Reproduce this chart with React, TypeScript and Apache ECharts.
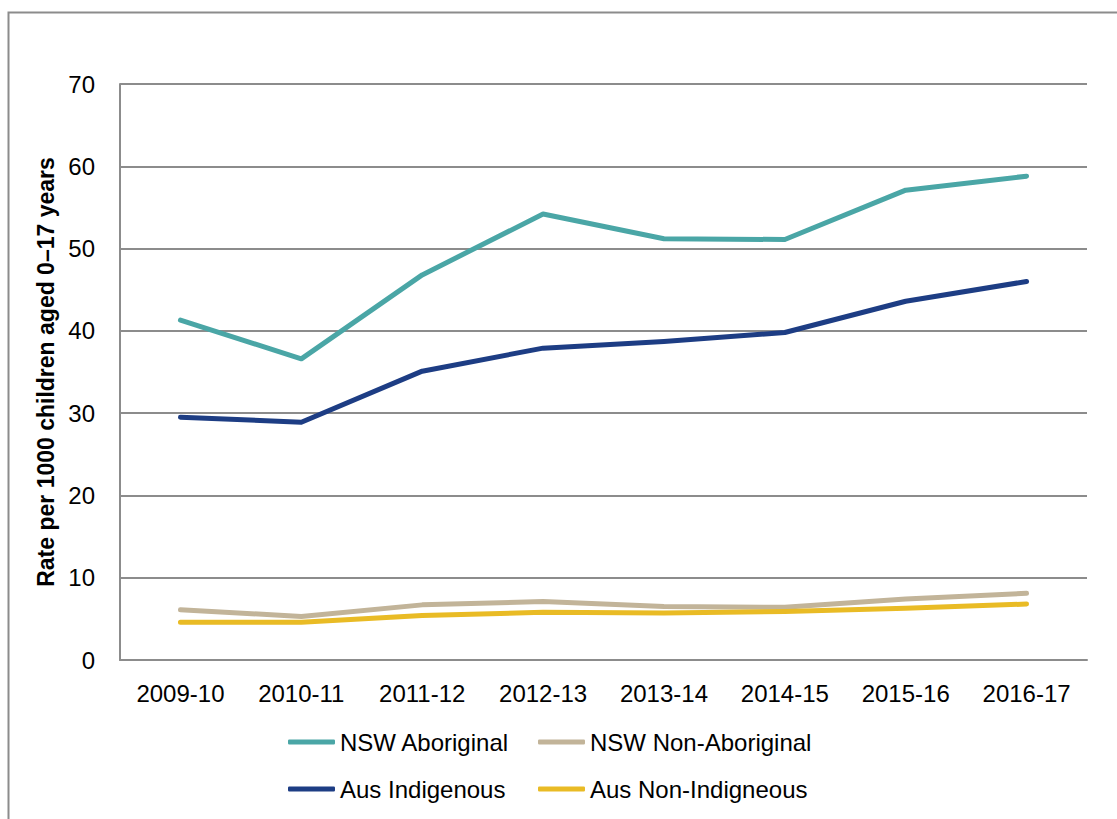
import React, { useEffect, useRef } from "react";
import * as echarts from "echarts";

const categories = ["2009-10", "2010-11", "2011-12", "2012-13", "2013-14", "2014-15", "2015-16", "2016-17"];
const nswAboriginal = [41.3, 36.6, 46.8, 54.2, 51.2, 51.1, 57.1, 58.8];
const nswNonAboriginal = [6.1, 5.3, 6.7, 7.1, 6.5, 6.4, 7.4, 8.1];
const ausIndigenous = [29.5, 28.9, 35.1, 37.9, 38.7, 39.8, 43.6, 46.0];
const ausNonIndigenous = [4.6, 4.6, 5.4, 5.8, 5.7, 5.9, 6.3, 6.8];

const seriesNames = ["NSW Aboriginal", "NSW Non-Aboriginal", "Aus Indigenous", "Aus Non-Indigneous"];
const seriesColors = ["#4aa6a6", "#c2b499", "#1d3d84", "#e9bb25"];
const seriesData = [nswAboriginal, nswNonAboriginal, ausIndigenous, ausNonIndigenous];

const FONT = "'Liberation Sans', Arial, sans-serif";

export default function App() {
  const ref = useRef<HTMLDivElement>(null);
  useEffect(() => {
    if (!ref.current) return;
    const chart = echarts.init(ref.current, undefined, { renderer: "svg" });
    const legendPos = [
      { left: 288, top: 730 },
      { left: 538, top: 730 },
      { left: 288, top: 777 },
      { left: 538, top: 777 },
    ];
    chart.setOption({
      animation: false,
      backgroundColor: "#ffffff",
      textStyle: { fontFamily: FONT },
      graphic: [
        {
          type: "rect",
          shape: { x: 8.5, y: 12.5, width: 1130, height: 830 },
          style: { fill: "none", stroke: "#8c8c8c", lineWidth: 2 },
          silent: true,
        },
      ],
      grid: { left: 120, top: 84, right: 30, bottom: 159, containLabel: false },
      legend: seriesNames.map((n, i) => ({
        data: [{ name: n, icon: "roundRect" }],
        left: legendPos[i].left,
        top: legendPos[i].top,
        padding: 0,
        itemWidth: 47,
        itemHeight: 5,
        textStyle: { fontFamily: FONT, fontSize: 24, color: "#000" },
        selectedMode: false,
      })),
      xAxis: {
        type: "category",
        data: categories,
        boundaryGap: true,
        axisLine: { show: true, lineStyle: { color: "#8c8c8c", width: 2 } },
        axisTick: { show: false },
        axisLabel: { fontSize: 24, color: "#000", margin: 21, fontFamily: FONT },
      },
      yAxis: {
        type: "value",
        min: 0,
        max: 70,
        interval: 10,
        name: "Rate per 1000 children aged 0\u201317 years",
        nameLocation: "middle",
        nameGap: 62,
        nameTextStyle: { fontSize: 23, fontWeight: "bold", color: "#000", fontFamily: FONT },
        axisLine: { show: true, lineStyle: { color: "#8c8c8c", width: 2 } },
        axisTick: { show: false },
        axisLabel: { fontSize: 24, color: "#000", margin: 25, fontFamily: FONT },
        splitLine: { show: true, lineStyle: { color: "#8c8c8c", width: 2 } },
      },
      series: seriesNames.map((n, i) => ({
        name: n,
        type: "line",
        data: seriesData[i],
        symbol: "none",
        color: seriesColors[i],
        lineStyle: { width: 5, color: seriesColors[i], cap: "round", join: "round" },
        z: 3,
      })),
    });
    return () => chart.dispose();
  }, []);
  return (
    <div
      ref={ref}
      style={{ position: "fixed", left: 0, top: 0, width: 1117, height: 819 }}
    />
  );
}
